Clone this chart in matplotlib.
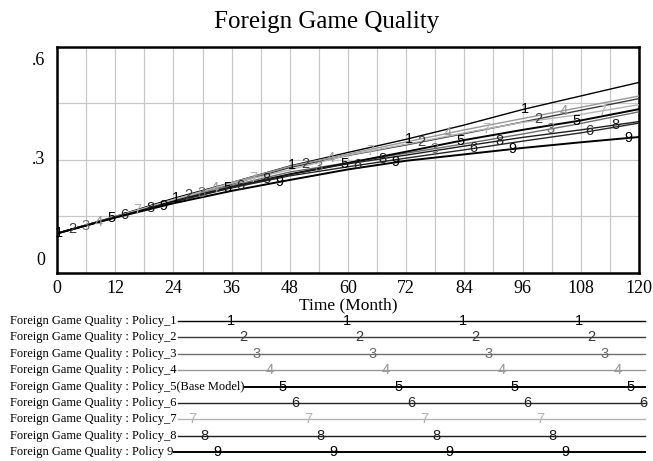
import numpy as np
import matplotlib.pyplot as plt
from matplotlib.lines import Line2D

# simulation time (months) and results for each policy run
months = np.arange(0, 121, 12)

policy_1 = [0.105, 0.150, 0.198, 0.240, 0.284, 0.320, 0.355, 0.393, 0.434, 0.470, 0.506]
policy_2 = [0.105, 0.149, 0.195, 0.236, 0.280, 0.312, 0.340, 0.370, 0.401, 0.432, 0.463]
policy_3 = [0.105, 0.148, 0.192, 0.232, 0.268, 0.293, 0.318, 0.343, 0.369, 0.397, 0.428]
policy_4 = [0.105, 0.149, 0.194, 0.240, 0.283, 0.316, 0.348, 0.380, 0.410, 0.440, 0.470]
policy_5 = [0.105, 0.148, 0.190, 0.228, 0.262, 0.292, 0.322, 0.353, 0.380, 0.405, 0.435]
policy_6 = [0.105, 0.148, 0.189, 0.226, 0.258, 0.282, 0.305, 0.327, 0.350, 0.372, 0.398]
policy_7 = [0.105, 0.149, 0.195, 0.238, 0.274, 0.313, 0.342, 0.372, 0.400, 0.421, 0.447]
policy_8 = [0.105, 0.148, 0.190, 0.228, 0.262, 0.290, 0.313, 0.337, 0.360, 0.380, 0.402]
policy_9 = [0.105, 0.147, 0.185, 0.218, 0.247, 0.275, 0.298, 0.315, 0.332, 0.347, 0.361]

labels = ["Foreign Game Quality : Policy_1",
          "Foreign Game Quality : Policy_2",
          "Foreign Game Quality : Policy_3",
          "Foreign Game Quality : Policy_4",
          "Foreign Game Quality : Policy_5(Base Model)",
          "Foreign Game Quality : Policy_6",
          "Foreign Game Quality : Policy_7",
          "Foreign Game Quality : Policy_8",
          "Foreign Game Quality : Policy 9"]

ytick_vals = [0, 0.3, 0.6]
ytick_text = ['0', '.3', '.6']

series = [policy_1, policy_2, policy_3, policy_4, policy_5,
          policy_6, policy_7, policy_8, policy_9]
colors = ['#000000', '#3c3c3c', '#6e6e6e', '#999999', '#000000',
          '#262626', '#b4b4b4', '#1e1e1e', '#000000']
widths = [1.0, 1.0, 1.0, 1.0, 1.4, 1.0, 1.0, 1.0, 1.4]

W, H = 653, 461
fig = plt.figure(figsize=(W / 100, H / 100), dpi=100)
ax = fig.add_axes([57 / W, 1 - 273 / H, (639 - 57) / W, (273 - 47) / H])

serif = 'Liberation Serif'
sans = 'Liberation Sans'

for k, (vals, c, lw) in enumerate(zip(series, colors, widths)):
    ax.plot(months, vals, color=c, lw=lw, zorder=3)
    # numbered markers every 24 months, staggered per run
    t0 = 0.5 + 2.67 * k
    for t in np.arange(t0, 120.5, 24):
        ax.text(t, np.interp(t, months, vals), str(k + 1), color=c,
                fontsize=10.5, family=sans, ha='center', va='center', zorder=4)

ax.set_xlim(0, 120)
ax.set_ylim(0, 0.6)
ax.set_xticks(np.arange(0, 121, 12))
ax.set_xticks(np.arange(0, 121, 6), minor=True)
ax.set_yticks(ytick_vals)
ax.set_yticks(np.arange(0, 0.61, 0.15), minor=True)
ax.set_yticklabels([])
ax.grid(True, which='both', color='#c8c8c8', lw=0.9, zorder=0)
ax.tick_params(which='both', length=0)
ax.tick_params(axis='x', pad=5, labelsize=13)
for lab in ax.get_xticklabels():
    lab.set_family(serif)

# Vensim pulls the end labels of the y scale inside the frame
ytr = ax.get_yaxis_transform()
ax.text(-0.021, 0.032, ytick_text[0], transform=ytr, ha='right', va='center',
        fontsize=13, family=serif)
ax.text(-0.021, ytick_vals[1], ytick_text[1], transform=ytr, ha='right', va='center',
        fontsize=13, family=serif)
ax.text(-0.021, 0.565, ytick_text[2], transform=ytr, ha='right', va='center',
        fontsize=13, family=serif)

for s in ax.spines.values():
    s.set_linewidth(1.8)
    s.set_color('black')

ax.set_xlabel("Time (Month)", fontsize=12.5, family=serif, labelpad=0)
fig.text(0.5, 1 - 22 / H, "Foreign Game Quality", fontsize=18, family=serif,
         ha='center', va='center')

# legend rows drawn beneath the chart
fig.canvas.draw()
renderer = fig.canvas.get_renderer()
for k, (lab, c, lw) in enumerate(zip(labels, colors, widths)):
    y = 1 - (321 + 16.4 * k) / H
    txt = fig.text(10 / W, y, lab, fontsize=9, family=serif, ha='left', va='center')
    x_end = txt.get_window_extent(renderer).x1
    fig.add_artist(Line2D([(x_end + 1) / W, 645 / W], [y, y], color=c, lw=lw,
                          transform=fig.transFigure))
    x0 = 192 + 12.9 * ((k + 3) % 9)
    for j in range(4):
        fig.text((x0 + 116 * j) / W, y, str(k + 1), color=c, fontsize=10.5,
                 family=sans, ha='center', va='center')

fig.savefig("out.png", dpi=100)
